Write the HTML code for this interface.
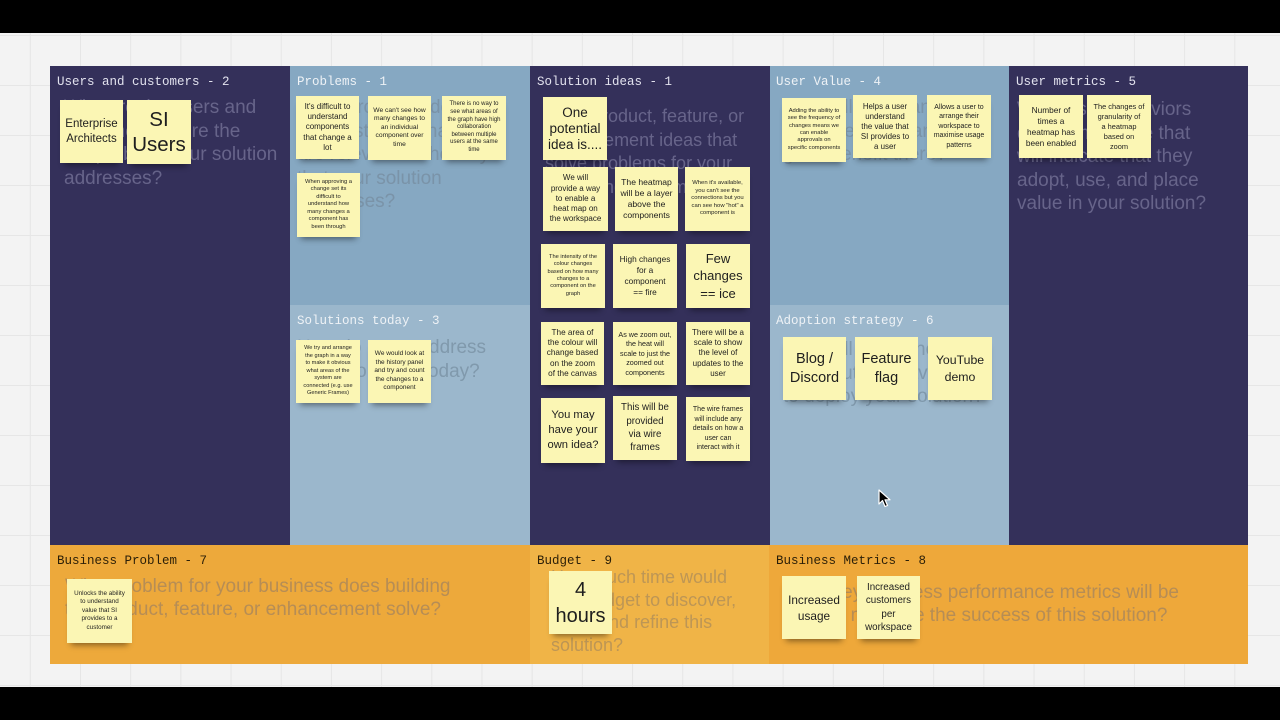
<!DOCTYPE html>
<html><head><meta charset="utf-8">
<style>
*{margin:0;padding:0;box-sizing:border-box}
html,body{width:1280px;height:720px;overflow:hidden;background:#000}
#bg{position:absolute;left:0;top:33px;width:1280px;height:654px;background-color:#f3f3f3;
background-image:linear-gradient(to right,#e6e6e6 1px,transparent 1px),linear-gradient(to bottom,#e6e6e6 1px,transparent 1px);
background-size:50.2px 50px;background-position:29.8px 2px;}
.r{position:absolute}
.nav{background:#34305a}
.lb{background:#86a8c2}
.lb2{background:#9bb7cc}
.hd{position:absolute;font-family:"Liberation Mono",monospace;font-size:12.5px;line-height:16px;white-space:nowrap;color:#e2e2ee}
.hd.w{color:#eef2f6}
.hd.o{color:#2b1f08}
.ph{position:absolute;font-family:"Liberation Sans",sans-serif;font-size:19px;line-height:23.5px;white-space:nowrap}
.s{position:absolute;background:#fbf6b4;display:flex;align-items:center;justify-content:center;text-align:center;color:#1e1e1e;font-family:"Liberation Sans",sans-serif;white-space:nowrap;box-shadow:0 6px 6px -4px rgba(0,0,0,0.45)}
</style></head><body>
<div id="bg"></div>

<!-- columns -->
<div class="r nav" style="left:50px;top:66px;width:240px;height:479px"></div>
<div class="r lb" style="left:290px;top:66px;width:240px;height:239px"></div>
<div class="r lb2" style="left:290px;top:305px;width:240px;height:240px"></div>
<div class="r nav" style="left:530px;top:66px;width:240px;height:479px"></div>
<div class="r lb" style="left:770px;top:66px;width:239px;height:239px"></div>
<div class="r lb2" style="left:770px;top:305px;width:239px;height:240px"></div>
<div class="r nav" style="left:1009px;top:66px;width:239px;height:479px"></div>
<div class="r" style="left:50px;top:545px;width:480px;height:119px;background:#eda93b"></div>
<div class="r" style="left:530px;top:545px;width:239px;height:119px;background:#f0b447"></div>
<div class="r" style="left:769px;top:545px;width:479px;height:119px;background:#eea83a"></div>

<!-- headers -->
<div class="hd" style="left:57px;top:74px">Users and customers - 2</div>
<div class="hd w" style="left:297px;top:74px">Problems - 1</div>
<div class="hd" style="left:537px;top:74px">Solution ideas - 1</div>
<div class="hd w" style="left:776px;top:74px">User Value - 4</div>
<div class="hd" style="left:1016px;top:74px">User metrics - 5</div>
<div class="hd w" style="left:297px;top:313px">Solutions today - 3</div>
<div class="hd w" style="left:776px;top:313px">Adoption strategy - 6</div>
<div class="hd o" style="left:57px;top:553px">Business Problem - 7</div>
<div class="hd o" style="left:537px;top:553px">Budget - 9</div>
<div class="hd o" style="left:776px;top:553px">Business Metrics - 8</div>

<!-- placeholder questions -->
<div class="ph" style="left:64px;top:96px;color:#67648a">Who are the users and<br>customers where the<br>the problem your solution<br>addresses?</div>
<div class="ph" style="left:297px;top:96px;color:#7a93a8">What problems do users<br>and customers have that<br>are relevant to the ways<br>that your solution<br>addresses?</div>
<div class="ph" style="left:545px;top:105px;font-size:18px;color:#67648a">What product, feature, or<br>enhancement ideas that<br>solve problems for your<br>users and customers?</div>
<div class="ph" style="left:783px;top:96px;color:#7a93a8">How will users and<br>customers find and<br>get a benefit there?</div>
<div class="ph" style="left:1017px;top:98px;color:#67648a">What user behaviors<br>do you measure that<br>will indicate that they<br>adopt, use, and place<br>value in your solution?</div>
<div class="ph" style="left:297px;top:336px;color:#8099ac">How do users address<br>their problems today?</div>
<div class="ph" style="left:783px;top:338px;color:#8099ac">How will you announce<br>this solution is available<br>to deploy your solution?</div>
<div class="ph" style="left:65px;top:575px;line-height:23px;color:#b68d55">What problem for your business does building<br>this product, feature, or enhancement solve?</div>
<div class="ph" style="left:551px;top:566px;line-height:22.5px;font-size:18px;color:#bd9655">How much time would<br>you budget to discover,<br>build, and refine this<br>solution?</div>
<div class="ph" style="left:783px;top:581px;line-height:23px;color:#b68d55">What key business performance metrics will be<br>used to measure the success of this solution?</div>

<!-- Users stickies -->
<div class="s" style="left:60px;top:100px;width:63px;height:63px;font-size:11.5px;line-height:15px">Enterprise<br>Architects</div>
<div class="s" style="left:127px;top:100px;width:64px;height:64px;font-size:20.5px;line-height:25px">SI<br>Users</div>

<!-- Problems stickies -->
<div class="s" style="left:296px;top:96px;width:63px;height:63px;font-size:8px;line-height:10.2px">It's difficult to<br>understand<br>components<br>that change a<br>lot</div>
<div class="s" style="left:368px;top:96px;width:63px;height:64px;font-size:6.7px;line-height:8.5px">We can't see how<br>many changes to<br>an individual<br>component over<br>time</div>
<div class="s" style="left:442px;top:96px;width:64px;height:64px;font-size:6px;line-height:7.6px">There is no way to<br>see what areas of<br>the graph have high<br>collaboration<br>between multiple<br>users at the same<br>time</div>
<div class="s" style="left:297px;top:173px;width:63px;height:64px;font-size:5.8px;line-height:7.5px">When approving a<br>change set its<br>difficult to<br>understand how<br>many changes a<br>component has<br>been through</div>

<!-- Solution ideas stickies -->
<div class="s" style="left:543px;top:97px;width:64px;height:63px;font-size:13.5px;line-height:16px">One<br>potential<br>idea is....</div>
<div class="s" style="left:543px;top:167px;width:65px;height:64px;font-size:8px;line-height:10.3px">We will<br>provide a way<br>to enable a<br>heat map on<br>the workspace</div>
<div class="s" style="left:615px;top:167px;width:63px;height:64px;font-size:8.6px;line-height:11.2px">The heatmap<br>will be a layer<br>above the<br>components</div>
<div class="s" style="left:685px;top:167px;width:65px;height:64px;font-size:5.9px;line-height:7.5px">When it's available,<br>you can't see the<br>connections but you<br>can see how "hot" a<br>component is</div>
<div class="s" style="left:541px;top:244px;width:64px;height:64px;font-size:5.7px;line-height:7.4px">The intensity of the<br>colour changes<br>based on how many<br>changes to a<br>component on the<br>graph</div>
<div class="s" style="left:613px;top:244px;width:64px;height:64px;font-size:8.3px;line-height:11px">High changes<br>for a<br>component<br>== fire</div>
<div class="s" style="left:686px;top:244px;width:64px;height:64px;font-size:13px;line-height:17.5px">Few<br>changes<br>== ice</div>
<div class="s" style="left:541px;top:322px;width:63px;height:63px;font-size:8.2px;line-height:10.2px">The area of<br>the colour will<br>change based<br>on the zoom<br>of the canvas</div>
<div class="s" style="left:613px;top:322px;width:64px;height:63px;font-size:7.2px;line-height:9.6px">As we zoom out,<br>the heat will<br>scale to just the<br>zoomed out<br>components</div>
<div class="s" style="left:686px;top:322px;width:64px;height:63px;font-size:8px;line-height:10.2px">There will be a<br>scale to show<br>the level of<br>updates to the<br>user</div>
<div class="s" style="left:541px;top:398px;width:64px;height:65px;font-size:11.2px;line-height:14.7px">You may<br>have your<br>own idea?</div>
<div class="s" style="left:613px;top:396px;width:64px;height:64px;font-size:9.7px;line-height:13.4px">This will be<br>provided<br>via wire<br>frames</div>
<div class="s" style="left:686px;top:397px;width:64px;height:64px;font-size:7px;line-height:9.5px">The wire frames<br>will include any<br>details on how a<br>user can<br>interact with it</div>

<!-- User Value stickies -->
<div class="s" style="left:782px;top:98px;width:64px;height:64px;font-size:5.8px;line-height:7.4px">Adding the ability to<br>see the frequency of<br>changes means we<br>can enable<br>approvals on<br>specific components</div>
<div class="s" style="left:853px;top:95px;width:64px;height:63px;font-size:7.9px;line-height:10px">Helps a user<br>understand<br>the value that<br>SI provides to<br>a user</div>
<div class="s" style="left:927px;top:95px;width:64px;height:63px;font-size:7px;line-height:9.5px">Allows a user to<br>arrange their<br>workspace to<br>maximise usage<br>patterns</div>

<!-- User metrics stickies -->
<div class="s" style="left:1019px;top:95px;width:64px;height:63px;font-size:8.3px;line-height:11px">Number of<br>times a<br>heatmap has<br>been enabled</div>
<div class="s" style="left:1087px;top:95px;width:64px;height:63px;font-size:7.4px;line-height:10px">The changes of<br>granularity of<br>a heatmap<br>based on<br>zoom</div>

<!-- Solutions today stickies -->
<div class="s" style="left:296px;top:340px;width:64px;height:63px;font-size:5.6px;line-height:7.5px">We try and arrange<br>the graph in a way<br>to make it obvious<br>what areas of the<br>system are<br>connected (e.g. use<br>Generic Frames)</div>
<div class="s" style="left:368px;top:340px;width:63px;height:63px;font-size:6.5px;line-height:8.6px">We would look at<br>the history panel<br>and try and count<br>the changes to a<br>component</div>

<!-- Adoption stickies -->
<div class="s" style="left:783px;top:337px;width:63px;height:63px;font-size:14.5px;line-height:19px">Blog /<br>Discord</div>
<div class="s" style="left:855px;top:337px;width:63px;height:63px;font-size:14.5px;line-height:19px">Feature<br>flag</div>
<div class="s" style="left:928px;top:337px;width:64px;height:63px;font-size:12.3px;line-height:17px">YouTube<br>demo</div>

<!-- Bottom stickies -->
<div class="s" style="left:67px;top:579px;width:65px;height:64px;font-size:6.3px;line-height:8.5px">Unlocks the ability<br>to understand<br>value that SI<br>provides to a<br>customer</div>
<div class="s" style="left:549px;top:571px;width:63px;height:63px;font-size:20px;line-height:26px">4<br>hours</div>
<div class="s" style="left:782px;top:576px;width:64px;height:63px;font-size:11.8px;line-height:16px">Increased<br>usage</div>
<div class="s" style="left:857px;top:576px;width:63px;height:63px;font-size:9.8px;line-height:13.2px">Increased<br>customers<br>per<br>workspace</div>

<!-- cursor -->
<svg class="r" style="left:878px;top:489px" width="14" height="20" viewBox="0 0 14 20">
<path d="M1 1 L1 15 L4.5 11.5 L7 17.5 L9.5 16.5 L7 10.8 L12 10.8 Z" fill="#000" stroke="#fff" stroke-width="1.2" stroke-linejoin="round"/>
</svg>
</body></html>
